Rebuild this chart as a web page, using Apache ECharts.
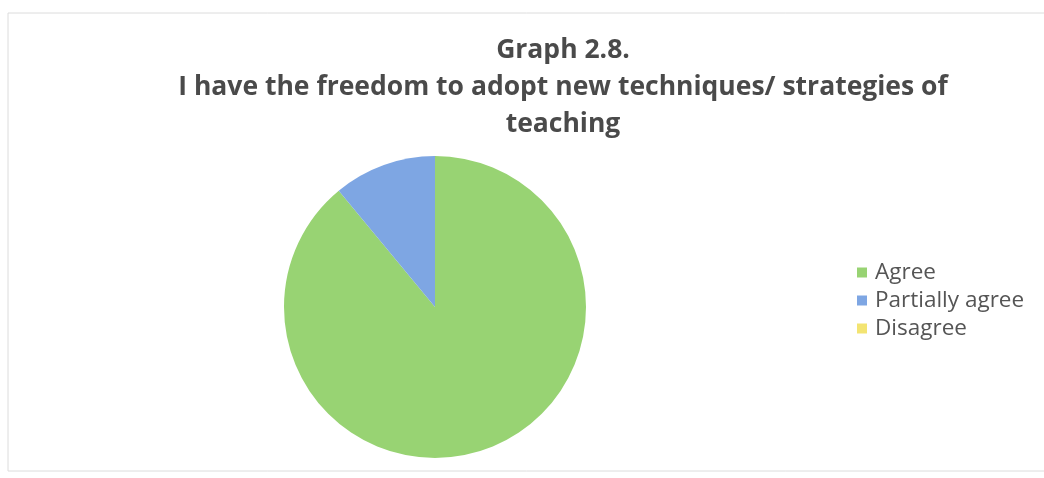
<!DOCTYPE html>
<html>
<head>
<meta charset="utf-8">
<script src="https://cdn.jsdelivr.net/npm/echarts@6/dist/echarts.min.js"></script>
<style>
  body { margin: 0; background: #fff; }
  #main { width: 1044px; height: 478px; }
</style>
</head>
<body>
<div id="main"></div>
<script>
// values (share of answers, %)
var categories = ['Agree', 'Partially agree', 'Disagree'];
var values = [89, 11, 0];
var colors = ['#98d373', '#7ea6e3', '#f3e472'];

var chart = echarts.init(document.getElementById('main'));

var pieData = [];
for (var i = 0; i < categories.length; i++) {
    pieData.push({ name: categories[i], value: values[i] });
}

var option = {
    backgroundColor: '#fff',
    color: colors,
    title: {
        text: 'Graph 2.8.\nI have the freedom to adopt new techniques/ strategies of\nteaching',
        left: 558, top: 27, textAlign: 'center',
        textStyle: {
            fontFamily: 'Open Sans', fontSize: 26.5, fontWeight: 'bold',
            color: '#4a4a4a', lineHeight: 37
        }
    },
    legend: {
        orient: 'vertical', left: 852, top: 256,
        itemWidth: 10, itemHeight: 10, itemGap: 5,
        icon: 'rect',
        textStyle: { fontFamily: 'Open Sans', fontSize: 22.5, color: '#555555', padding: [0, 0, 0, 3] },
        data: categories
    },
    graphic: [{
        type: 'rect', z: -1, silent: true,
        shape: { x: 8, y: 13, width: 1100, height: 458 },
        style: { fill: 'none', stroke: '#dcdcdc', lineWidth: 1 }
    }],
    series: [{
        type: 'pie',
        center: [435, 307], radius: 151,
        startAngle: 90, clockwise: true,
        label: { show: false }, labelLine: { show: false },
        emphasis: { disabled: true },
        itemStyle: { borderWidth: 0 },
        data: pieData
    }]
};
chart.setOption(option);
</script>
</body>
</html>
